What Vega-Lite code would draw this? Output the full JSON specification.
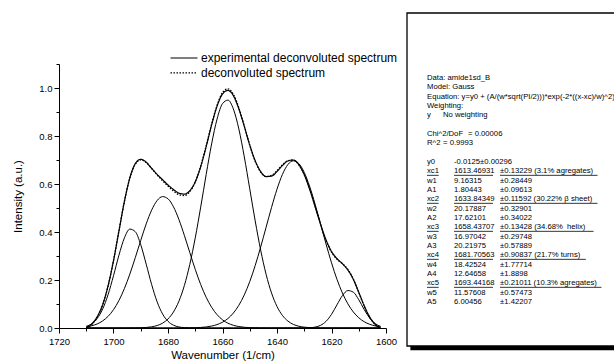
{
  "$schema": "https://vega.github.io/schema/vega-lite/v6.json",
  "width": 327,
  "height": 264,
  "autosize": {"type": "none"},
  "padding": {"left": 59, "top": 64, "right": 228, "bottom": 36},
  "background": "white",
  "config": {"view": {"stroke": null}, "font": "Liberation Sans"},
  "resolve": {"scale": {"x": "independent", "y": "independent"}},
  "layer": [
    {
      "data": {"values": [
        {"wn":1710,"c1":0,"c2":0,"c3":0,"c4":0.0049,"c5":0.0069,"fit":-0.0007,"exp":0.000},
        {"wn":1708,"c1":0,"c2":0,"c3":0,"c4":0.0093,"c5":0.0175,"fit":0.0143,"exp":0.016},
        {"wn":1706,"c1":0,"c2":0,"c3":0,"c4":0.0169,"c5":0.0393,"fit":0.0437,"exp":0.047},
        {"wn":1704,"c1":0,"c2":0,"c3":0,"c4":0.0293,"c5":0.0784,"fit":0.0952,"exp":0.097},
        {"wn":1702,"c1":0,"c2":0,"c3":0,"c4":0.0484,"c5":0.1387,"fit":0.1746,"exp":0.175},
        {"wn":1700,"c1":0,"c2":0,"c3":0,"c4":0.0762,"c5":0.2178,"fit":0.2815,"exp":0.280},
        {"wn":1698,"c1":0,"c2":0,"c3":0,"c4":0.1146,"c5":0.3036,"fit":0.4057,"exp":0.404},
        {"wn":1696,"c1":0,"c2":0,"c3":0.0001,"c4":0.1644,"c5":0.3754,"fit":0.5274,"exp":0.527},
        {"wn":1694,"c1":0,"c2":0,"c3":0.0001,"c4":0.2248,"c5":0.4120,"fit":0.6244,"exp":0.626},
        {"wn":1692,"c1":0,"c2":0,"c3":0.0004,"c4":0.2933,"c5":0.4012,"fit":0.6824,"exp":0.685},
        {"wn":1690,"c1":0,"c2":0,"c3":0.0009,"c4":0.3652,"c5":0.3468,"fit":0.7004,"exp":0.703},
        {"wn":1688,"c1":0,"c2":0,"c3":0.0022,"c4":0.4337,"c5":0.2660,"fit":0.6894,"exp":0.691},
        {"wn":1686,"c1":0,"c2":0,"c3":0.0049,"c4":0.4913,"c5":0.1811,"fit":0.6648,"exp":0.665},
        {"wn":1684,"c1":0,"c2":0,"c3":0.0102,"c4":0.5310,"c5":0.1094,"fit":0.6381,"exp":0.640},
        {"wn":1682,"c1":0,"c2":0,"c3":0.0201,"c4":0.5474,"c5":0.0587,"fit":0.6137,"exp":0.618},
        {"wn":1680,"c1":0,"c2":0,"c3":0.0376,"c4":0.5384,"c5":0.0279,"fit":0.5914,"exp":0.596},
        {"wn":1678,"c1":0,"c2":0,"c3":0.0666,"c4":0.5051,"c5":0.0118,"fit":0.5710,"exp":0.577},
        {"wn":1676,"c1":0,"c2":0.0001,"c3":0.1116,"c4":0.4521,"c5":0.0044,"fit":0.5557,"exp":0.562},
        {"wn":1674,"c1":0,"c2":0.0003,"c3":0.1768,"c4":0.3860,"c5":0.0015,"fit":0.5521,"exp":0.558},
        {"wn":1672,"c1":0,"c2":0.0005,"c3":0.2650,"c4":0.3144,"c5":0.0004,"fit":0.5678,"exp":0.572},
        {"wn":1670,"c1":0,"c2":0.0011,"c3":0.3756,"c4":0.2443,"c5":0.0001,"fit":0.6086,"exp":0.609},
        {"wn":1668,"c1":0,"c2":0.0023,"c3":0.5038,"c4":0.1811,"c5":0,"fit":0.6747,"exp":0.672},
        {"wn":1666,"c1":0,"c2":0.0043,"c3":0.6391,"c4":0.1281,"c5":0,"fit":0.7590,"exp":0.755},
        {"wn":1664,"c1":0,"c2":0.0080,"c3":0.7668,"c4":0.0864,"c5":0,"fit":0.8487,"exp":0.846},
        {"wn":1662,"c1":0,"c2":0.0142,"c3":0.8705,"c4":0.0556,"c5":0,"fit":0.9278,"exp":0.924},
        {"wn":1660,"c1":0,"c2":0.0242,"c3":0.9347,"c4":0.0341,"c5":0,"fit":0.9805,"exp":0.975},
        {"wn":1658,"c1":0,"c2":0.0396,"c3":0.9494,"c4":0.0200,"c5":0,"fit":0.9965,"exp":0.990},
        {"wn":1656,"c1":0,"c2":0.0625,"c3":0.9123,"c4":0.0112,"c5":0,"fit":0.9735,"exp":0.968},
        {"wn":1654,"c1":0,"c2":0.0947,"c3":0.8292,"c4":0.0060,"c5":0,"fit":0.9174,"exp":0.913},
        {"wn":1652,"c1":0,"c2":0.1380,"c3":0.7130,"c4":0.0030,"c5":0,"fit":0.8415,"exp":0.840},
        {"wn":1650,"c1":0,"c2":0.1933,"c3":0.5799,"c4":0.0015,"c5":0,"fit":0.7622,"exp":0.762},
        {"wn":1648,"c1":0,"c2":0.2604,"c3":0.4462,"c4":0.0007,"c5":0,"fit":0.6948,"exp":0.697},
        {"wn":1646,"c1":0,"c2":0.3372,"c3":0.3248,"c4":0.0003,"c5":0,"fit":0.6498,"exp":0.652},
        {"wn":1644,"c1":0,"c2":0.4198,"c3":0.2236,"c4":0.0001,"c5":0,"fit":0.6310,"exp":0.631},
        {"wn":1642,"c1":0,"c2":0.5025,"c3":0.1456,"c4":0,"c5":0,"fit":0.6356,"exp":0.633},
        {"wn":1640,"c1":0,"c2":0.5784,"c3":0.0897,"c4":0,"c5":0,"fit":0.6556,"exp":0.652},
        {"wn":1638,"c1":0,"c2":0.6401,"c3":0.0523,"c4":0,"c5":0,"fit":0.6799,"exp":0.677},
        {"wn":1636,"c1":0,"c2":0.6811,"c3":0.0288,"c4":0,"c5":0,"fit":0.6974,"exp":0.696},
        {"wn":1634,"c1":0,"c2":0.6967,"c3":0.0150,"c4":0,"c5":0,"fit":0.6992,"exp":0.700},
        {"wn":1632,"c1":0,"c2":0.6853,"c3":0.0074,"c4":0,"c5":0,"fit":0.6802,"exp":0.681},
        {"wn":1630,"c1":0.0002,"c2":0.6480,"c3":0.0035,"c4":0,"c5":0,"fit":0.6392,"exp":0.639},
        {"wn":1628,"c1":0.0010,"c2":0.5892,"c3":0.0015,"c4":0,"c5":0,"fit":0.5792,"exp":0.577},
        {"wn":1626,"c1":0.0037,"c2":0.5151,"c3":0.0006,"c4":0,"c5":0,"fit":0.5069,"exp":0.505},
        {"wn":1624,"c1":0.0112,"c2":0.4329,"c3":0.0003,"c4":0,"c5":0,"fit":0.4319,"exp":0.432},
        {"wn":1622,"c1":0.0277,"c2":0.3499,"c3":0.0001,"c4":0,"c5":0,"fit":0.3652,"exp":0.367},
        {"wn":1620,"c1":0.0569,"c2":0.2718,"c3":0,"c4":0,"c5":0,"fit":0.3162,"exp":0.319},
        {"wn":1618,"c1":0.0963,"c2":0.2030,"c3":0,"c4":0,"c5":0,"fit":0.2868,"exp":0.289},
        {"wn":1616,"c1":0.1349,"c2":0.1458,"c3":0,"c4":0,"c5":0,"fit":0.2682,"exp":0.268},
        {"wn":1614,"c1":0.1560,"c2":0.1008,"c3":0,"c4":0,"c5":0,"fit":0.2443,"exp":0.242},
        {"wn":1612,"c1":0.1492,"c2":0.0669,"c3":0,"c4":0,"c5":0,"fit":0.2036,"exp":0.203},
        {"wn":1610,"c1":0.1180,"c2":0.0427,"c3":0,"c4":0,"c5":0,"fit":0.1482,"exp":0.149},
        {"wn":1608,"c1":0.0770,"c2":0.0262,"c3":0,"c4":0,"c5":0,"fit":0.0907,"exp":0.093},
        {"wn":1606,"c1":0.0416,"c2":0.0155,"c3":0,"c4":0,"c5":0,"fit":0.0446,"exp":0.046},
        {"wn":1604,"c1":0.0186,"c2":0.0088,"c3":0,"c4":0,"c5":0,"fit":0.0149,"exp":0.015},
        {"wn":1602,"c1":0.0068,"c2":0.0048,"c3":0,"c4":0,"c5":0,"fit":-0.0009,"exp":0.000}
      ]},
      "encoding": {
        "x": {
          "field": "wn", "type": "quantitative",
          "scale": {"domain": [1720, 1600], "nice": false, "zero": false},
          "axis": {
            "orient": "bottom",
            "values": [1720,1710,1700,1690,1680,1670,1660,1650,1640,1630,1620,1610,1600],
            "labelExpr": "datum.value % 20 === 0 ? format(datum.value, 'd') : ''",
            "tickSize": {"condition": {"test": "datum.value % 20 === 0", "value": 5}, "value": 3},
            "grid": false, "domainColor": "black", "tickColor": "black", "labelColor": "black",
            "labelFont": "Liberation Sans", "labelFontSize": 9.5, "labelFlush": false, "labelOverlap": false,
            "labelPadding": 3,
            "title": "Wavenumber (1/cm)", "titleFont": "Liberation Sans", "titleFontSize": 11.5,
            "titleFontWeight": "normal", "titleColor": "black", "titlePadding": 4
          }
        },
        "y": {
          "type": "quantitative",
          "scale": {"domain": [0, 1.1], "nice": false, "zero": false},
          "axis": {
            "orient": "left",
            "values": [0,0.1,0.2,0.3,0.4,0.5,0.6,0.7,0.8,0.9,1.0,1.1],
            "labelExpr": "round(datum.value*10) % 2 === 0 ? format(datum.value, '.1f') : ''",
            "tickSize": {"condition": {"test": "round(datum.value*10) % 2 === 0", "value": 5}, "value": 3},
            "grid": false, "domainColor": "black", "tickColor": "black", "labelColor": "black",
            "labelFont": "Liberation Sans", "labelFontSize": 9.5, "labelOverlap": false, "labelPadding": 2,
            "title": "Intensity (a.u.)", "titleFont": "Liberation Sans", "titleFontSize": 11.5,
            "titleFontWeight": "normal", "titleColor": "black", "titlePadding": 15
          }
        }
      },
      "layer": [
        {
          "transform": [{"fold": ["c1", "c2", "c3", "c4", "c5"], "as": ["comp", "val"]}],
          "mark": {"type": "line", "color": "black", "strokeWidth": 1, "interpolate": "monotone"},
          "encoding": {"y": {"field": "val"}, "detail": {"field": "comp", "type": "nominal"}}
        },
        {
          "mark": {"type": "line", "color": "black", "strokeWidth": 1.2, "interpolate": "monotone"},
          "encoding": {
            "y": {"field": "exp"},
            "strokeDash": {
              "datum": "experimental deconvoluted spectrum", "type": "nominal",
              "scale": {"domain": ["experimental deconvoluted spectrum", "deconvoluted spectrum"], "range": [[1, 0], [1.5, 1.5]]},
              "legend": {
                "orient": "none", "legendX": 119, "legendY": -12, "title": null,
                "symbolType": "M-2.7,0H2.7", "symbolSize": 100, "symbolStrokeColor": "black", "symbolStrokeWidth": 1.2,
                "labelFont": "Liberation Sans", "labelFontSize": 12, "labelColor": "black", "labelLimit": 0,
                "labelOffset": 11, "rowPadding": 2.8, "padding": 0
              }
            }
          }
        },
        {
          "mark": {"type": "line", "color": "black", "strokeWidth": 1.3, "interpolate": "monotone"},
          "encoding": {
            "y": {"field": "fit"},
            "strokeDash": {"datum": "deconvoluted spectrum", "type": "nominal"}
          }
        }
      ]
    },
    {
      "data": {"values": [{}]},
      "layer": [
        {
          "mark": {"type": "rect", "fill": "white", "stroke": "black", "strokeWidth": 1.3},
          "encoding": {
            "x": {"datum": 0, "type": "quantitative", "scale": {"domain": [0, 1], "range": [348, 572]}, "axis": null},
            "x2": {"datum": 1},
            "y": {"datum": 0, "type": "quantitative", "scale": {"domain": [0, 1], "range": [-51, 282]}, "axis": null},
            "y2": {"datum": 1}
          }
        },
        {
          "mark": {"type": "rect", "fill": "black"},
          "encoding": {
            "x": {"datum": 0.015, "type": "quantitative"},
            "x2": {"datum": 1},
            "y": {"datum": 1, "type": "quantitative"},
            "y2": {"datum": 1.013}
          }
        }
      ]
    },
    {
      "data": {"values": [
        {"line": 0, "col": 0, "t": "Data: amide1sd_B", "u": false},
        {"line": 1, "col": 0, "t": "Model: Gauss", "u": false},
        {"line": 2, "col": 0, "t": "Equation: y=y0 + (A/(w*sqrt(PI/2)))*exp(-2*((x-xc)/w)^2)", "u": false},
        {"line": 3, "col": 0, "t": "Weighting:", "u": false},
        {"line": 4, "col": 0, "t": "y", "u": false},
        {"line": 4, "col": 1, "t": "No weighting", "u": false},
        {"line": 6, "col": 0, "t": "Chi^2/DoF", "u": false},
        {"line": 6, "col": 3, "t": "= 0.00006", "u": false},
        {"line": 7, "col": 0, "t": "R^2", "u": false},
        {"line": 7, "col": 1, "t": "= 0.9993", "u": false},
        {"line": 9, "col": 0, "t": "y0", "u": false},
        {"line": 9, "col": 2, "t": "-0.0125±0.00296", "u": false},
        {"line": 10, "col": 0, "t": "xc1", "u": true},
        {"line": 10, "col": 2, "t": "1613.46931", "u": true},
        {"line": 10, "col": 4, "t": "±0.13229 (3.1% agregates)", "u": true},
        {"line": 11, "col": 0, "t": "w1", "u": false},
        {"line": 11, "col": 2, "t": "9.16315", "u": false},
        {"line": 11, "col": 4, "t": "±0.28449", "u": false},
        {"line": 12, "col": 0, "t": "A1", "u": false},
        {"line": 12, "col": 2, "t": "1.80443", "u": false},
        {"line": 12, "col": 4, "t": "±0.09613", "u": false},
        {"line": 13, "col": 0, "t": "xc2", "u": true},
        {"line": 13, "col": 2, "t": "1633.84349", "u": true},
        {"line": 13, "col": 4, "t": "±0.11592 (30.22% β sheet)", "u": true},
        {"line": 14, "col": 0, "t": "w2", "u": false},
        {"line": 14, "col": 2, "t": "20.17887", "u": false},
        {"line": 14, "col": 4, "t": "±0.32901", "u": false},
        {"line": 15, "col": 0, "t": "A2", "u": false},
        {"line": 15, "col": 2, "t": "17.62101", "u": false},
        {"line": 15, "col": 4, "t": "±0.34022", "u": false},
        {"line": 16, "col": 0, "t": "xc3", "u": true},
        {"line": 16, "col": 2, "t": "1658.43707", "u": true},
        {"line": 16, "col": 4, "t": "±0.13428 (34.68%\u00a0 helix)", "u": true},
        {"line": 17, "col": 0, "t": "w3", "u": false},
        {"line": 17, "col": 2, "t": "16.97042", "u": false},
        {"line": 17, "col": 4, "t": "±0.29748", "u": false},
        {"line": 18, "col": 0, "t": "A3", "u": false},
        {"line": 18, "col": 2, "t": "20.21975", "u": false},
        {"line": 18, "col": 4, "t": "±0.57889", "u": false},
        {"line": 19, "col": 0, "t": "xc4", "u": true},
        {"line": 19, "col": 2, "t": "1681.70563", "u": true},
        {"line": 19, "col": 4, "t": "±0.90837 (21.7% turns)", "u": true},
        {"line": 20, "col": 0, "t": "w4", "u": false},
        {"line": 20, "col": 2, "t": "18.42524", "u": false},
        {"line": 20, "col": 4, "t": "±1.77714", "u": false},
        {"line": 21, "col": 0, "t": "A4", "u": false},
        {"line": 21, "col": 2, "t": "12.64658", "u": false},
        {"line": 21, "col": 4, "t": "±1.8898", "u": false},
        {"line": 22, "col": 0, "t": "xc5", "u": true},
        {"line": 22, "col": 2, "t": "1693.44168", "u": true},
        {"line": 22, "col": 4, "t": "±0.21011 (10.3% agregates)", "u": true},
        {"line": 23, "col": 0, "t": "w5", "u": false},
        {"line": 23, "col": 2, "t": "11.57608", "u": false},
        {"line": 23, "col": 4, "t": "±0.57473", "u": false},
        {"line": 24, "col": 0, "t": "A5", "u": false},
        {"line": 24, "col": 2, "t": "6.00456", "u": false},
        {"line": 24, "col": 4, "t": "±1.42207", "u": false}
      ]},
      "encoding": {
        "x": {"field": "col", "type": "quantitative", "scale": {"domain": [0, 1, 2, 3, 4], "range": [368, 384, 395, 409, 441]}, "axis": null},
        "y": {"field": "line", "type": "quantitative", "scale": {"domain": [0, 24], "range": [14, 238]}, "axis": null}
      },
      "layer": [
        {
          "mark": {"type": "text", "align": "left", "baseline": "middle", "font": "Liberation Sans", "fontSize": 7.7, "color": "black"},
          "encoding": {"text": {"field": "t", "type": "nominal"}}
        },
        {
          "transform": [{"filter": "datum.u"}],
          "mark": {"type": "rule", "color": "black", "strokeWidth": 0.8, "yOffset": 4, "x2Offset": {"expr": "length(datum.t) * 3.9"}},
          "encoding": {"x2": {"field": "col"}}
        }
      ]
    }
  ]
}
